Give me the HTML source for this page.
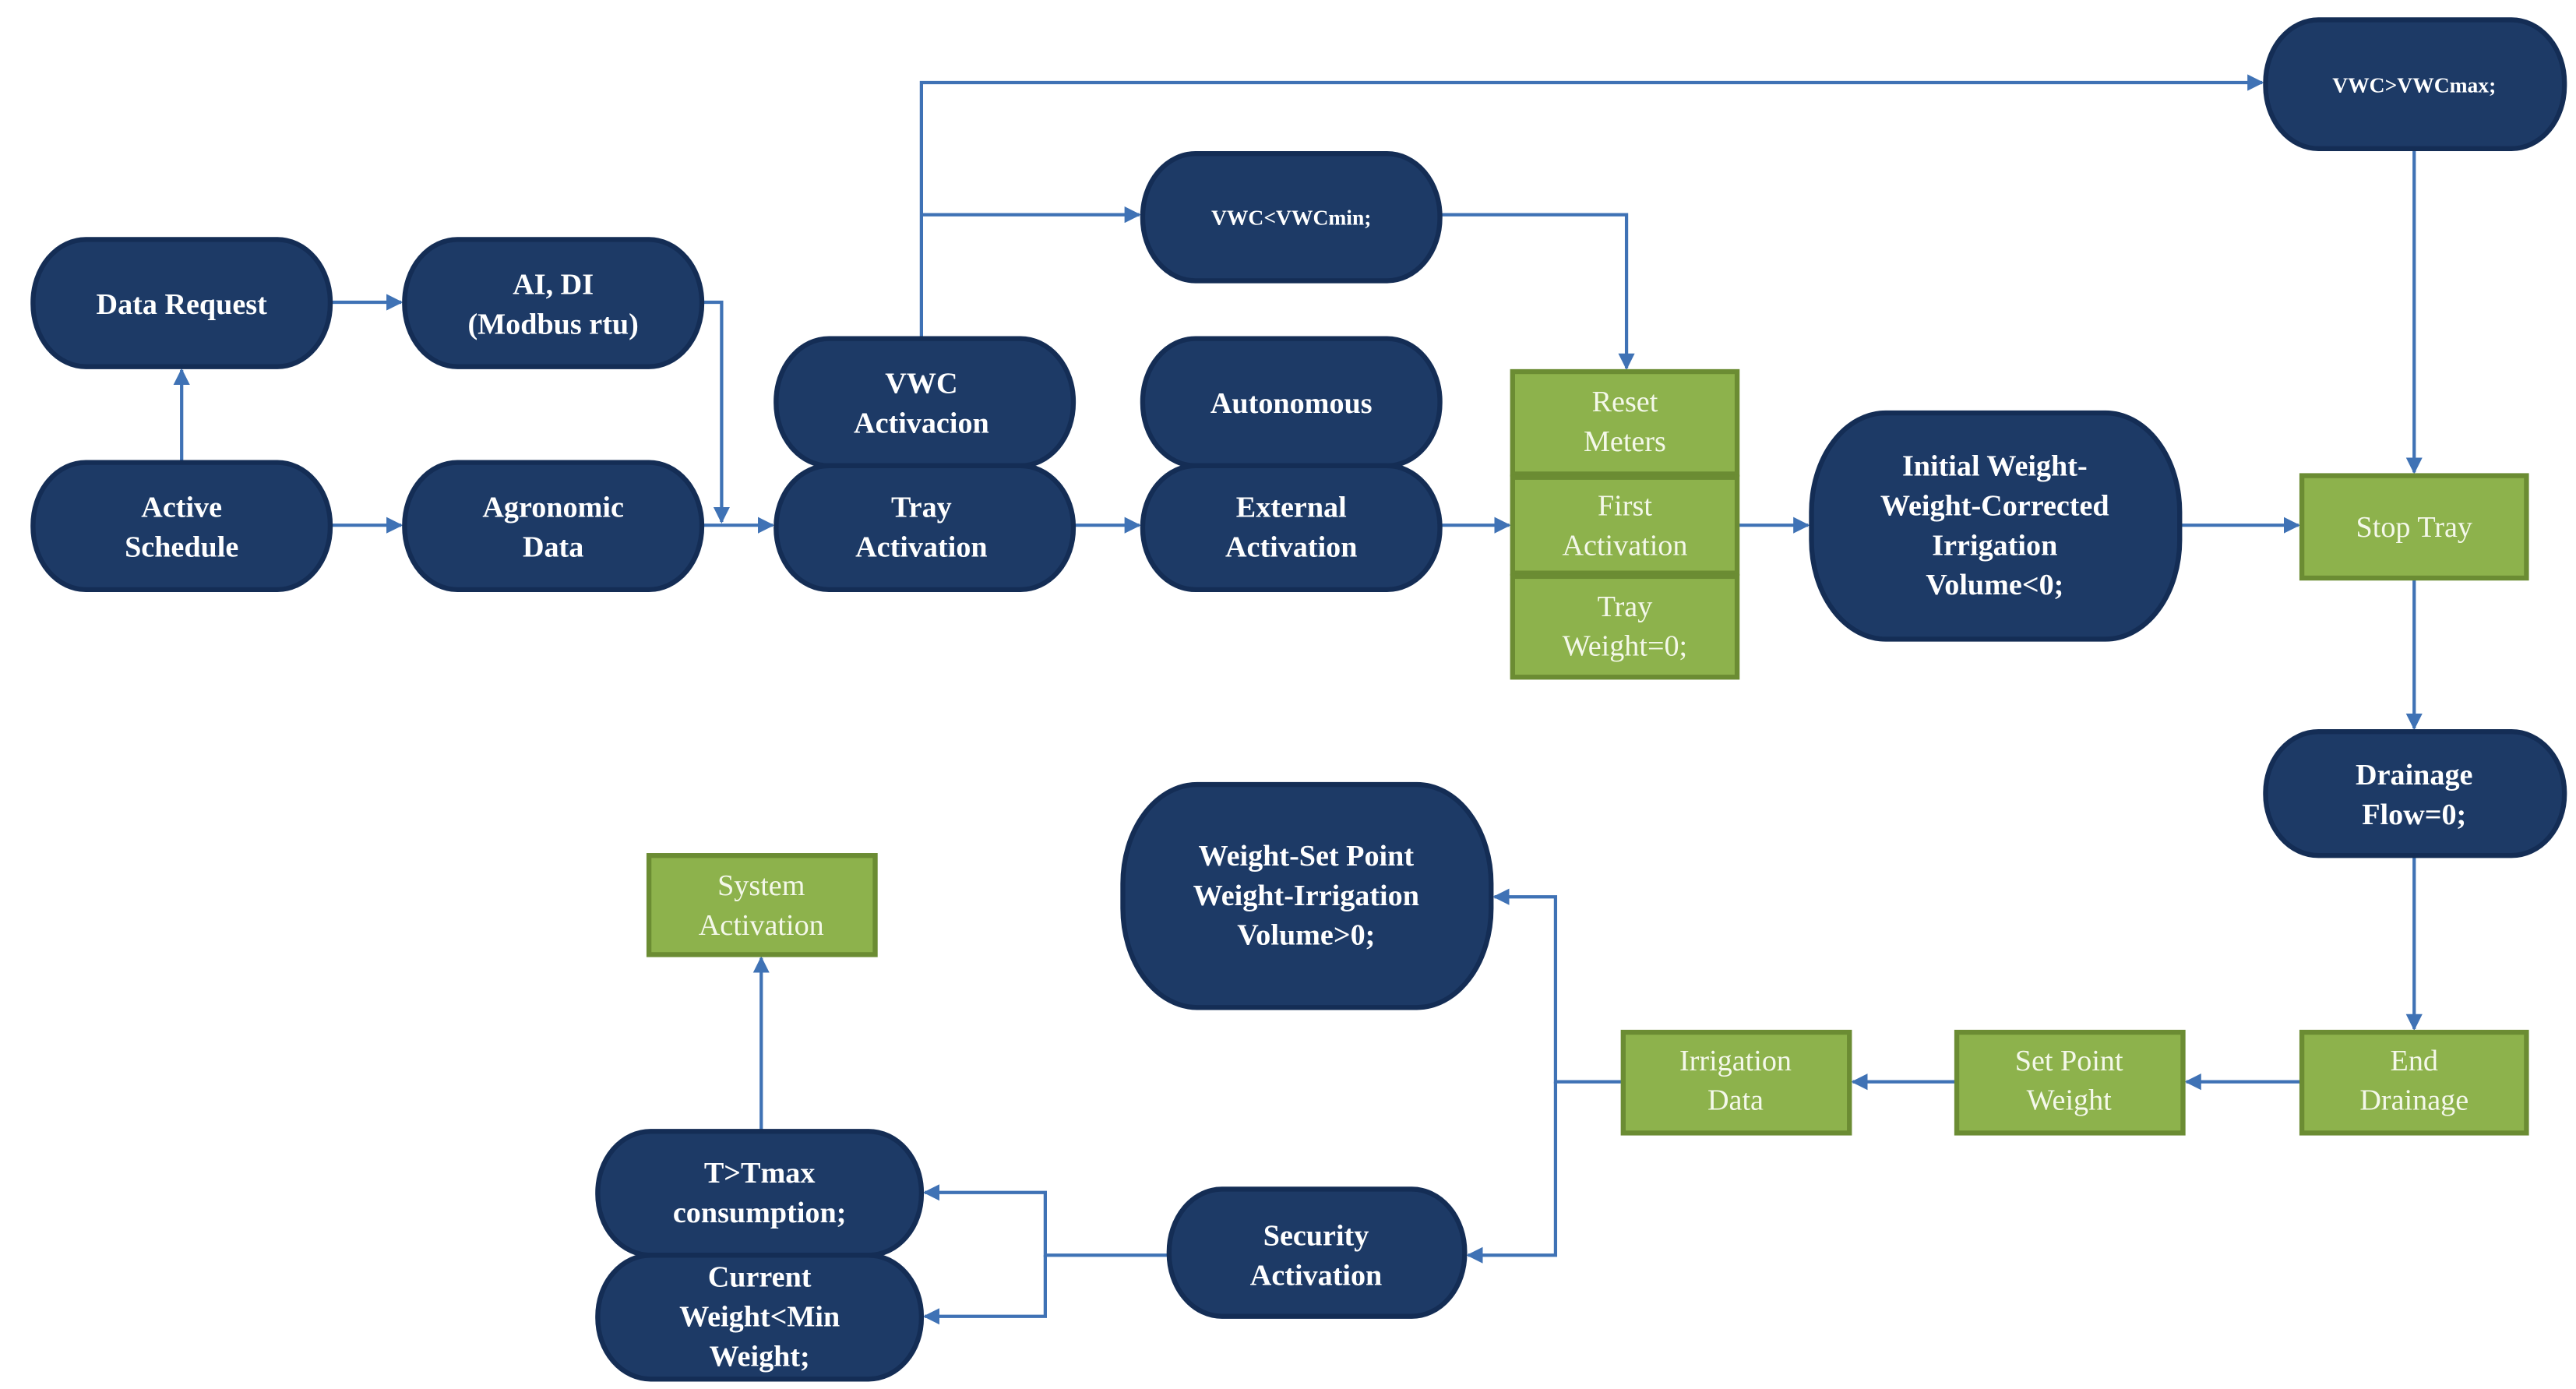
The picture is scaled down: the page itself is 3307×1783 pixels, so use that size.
<!DOCTYPE html>
<html><head><meta charset="utf-8"><style>
html,body{margin:0;padding:0;background:#fff;}
svg{display:block;}
.d{fill:#1d3a66;stroke:#142d55;stroke-width:3;}
.g{fill:#8db24c;stroke:#6b8c33;stroke-width:3;}
.t{font-family:"Liberation Serif",serif;font-weight:bold;fill:#fff;font-size:18px;text-anchor:middle;}
.s{font-size:13px;}
.gt{font-family:"Liberation Serif",serif;fill:#f4f8ea;font-size:18px;text-anchor:middle;}
.l{stroke:#3f72b5;stroke-width:2;fill:none;}
</style></head><body>
<svg width="3307" height="1783" viewBox="0 0 1560 841" preserveAspectRatio="none">
<defs><marker id="a" markerWidth="10" markerHeight="10" refX="9" refY="5" orient="auto" markerUnits="userSpaceOnUse"><path d="M0,0 L10,5 L0,10 z" fill="#3f72b5"/></marker></defs>
<!-- connectors -->
<path class="l" d="M200,183 H243" marker-end="url(#a)"/>
<path class="l" d="M110,280 V224" marker-end="url(#a)"/>
<path class="l" d="M200,318 H243" marker-end="url(#a)"/>
<path class="l" d="M425,183 H437 V316" marker-end="url(#a)"/>
<path class="l" d="M425,318 H468" marker-end="url(#a)"/>
<path class="l" d="M650,318 H690" marker-end="url(#a)"/>
<path class="l" d="M872,318 H914" marker-end="url(#a)"/>
<path class="l" d="M1052,318 H1095" marker-end="url(#a)"/>
<path class="l" d="M1320,318 H1392" marker-end="url(#a)"/>
<path class="l" d="M558,205 V50 H1370" marker-end="url(#a)"/>
<path class="l" d="M558,130 H690" marker-end="url(#a)"/>
<path class="l" d="M872,130 H985 V223" marker-end="url(#a)"/>
<path class="l" d="M1462,90 V286" marker-end="url(#a)"/>
<path class="l" d="M1462,350 V441" marker-end="url(#a)"/>
<path class="l" d="M1462,518 V623" marker-end="url(#a)"/>
<path class="l" d="M1394,655 H1324" marker-end="url(#a)"/>
<path class="l" d="M1185,655 H1122" marker-end="url(#a)"/>
<path class="l" d="M983,655 H942 V543 H905" marker-end="url(#a)"/>
<path class="l" d="M942,655 V760 H889" marker-end="url(#a)"/>
<path class="l" d="M708,760 H633 V722 H560" marker-end="url(#a)"/>
<path class="l" d="M633,760 V797 H560" marker-end="url(#a)"/>
<path class="l" d="M461,685 V580" marker-end="url(#a)"/>
<!-- dark nodes -->
<rect class="d" x="20" y="145" width="180" height="77" rx="32" ry="38"/>
<text class="t" x="110" y="190">Data Request</text>
<rect class="d" x="245" y="145" width="180" height="77" rx="32" ry="38"/>
<text class="t" x="335" y="178">AI, DI</text><text class="t" x="335" y="202">(Modbus rtu)</text>
<rect class="d" x="20" y="280" width="180" height="77" rx="32" ry="38"/>
<text class="t" x="110" y="313">Active</text><text class="t" x="110" y="337">Schedule</text>
<rect class="d" x="245" y="280" width="180" height="77" rx="32" ry="38"/>
<text class="t" x="335" y="313">Agronomic</text><text class="t" x="335" y="337">Data</text>
<rect class="d" x="470" y="205" width="180" height="77" rx="32" ry="38"/>
<text class="t" x="558" y="238">VWC</text><text class="t" x="558" y="262">Activacion</text>
<rect class="d" x="470" y="282" width="180" height="75" rx="32" ry="37"/>
<text class="t" x="558" y="313">Tray</text><text class="t" x="558" y="337">Activation</text>
<rect class="d" x="692" y="93" width="180" height="77" rx="32" ry="38"/>
<text class="t s" x="782" y="136">VWC&lt;VWCmin;</text>
<rect class="d" x="692" y="205" width="180" height="77" rx="32" ry="38"/>
<text class="t" x="782" y="250">Autonomous</text>
<rect class="d" x="692" y="282" width="180" height="75" rx="32" ry="37"/>
<text class="t" x="782" y="313">External</text><text class="t" x="782" y="337">Activation</text>
<rect class="d" x="1097" y="250" width="223" height="137" rx="45" ry="60"/>
<text class="t" x="1208" y="288">Initial Weight-</text><text class="t" x="1208" y="312">Weight-Corrected</text><text class="t" x="1208" y="336">Irrigation</text><text class="t" x="1208" y="360">Volume&lt;0;</text>
<rect class="d" x="1372" y="12" width="181" height="78" rx="32" ry="38"/>
<text class="t s" x="1462" y="56">VWC&gt;VWCmax;</text>
<rect class="d" x="1372" y="443" width="181" height="75" rx="32" ry="37"/>
<text class="t" x="1462" y="475">Drainage</text><text class="t" x="1462" y="499">Flow=0;</text>
<rect class="d" x="680" y="475" width="223" height="135" rx="45" ry="60"/>
<text class="t" x="791" y="524">Weight-Set Point</text><text class="t" x="791" y="548">Weight-Irrigation</text><text class="t" x="791" y="572">Volume&gt;0;</text>
<rect class="d" x="708" y="720" width="179" height="77" rx="32" ry="38"/>
<text class="t" x="797" y="754">Security</text><text class="t" x="797" y="778">Activation</text>
<rect class="d" x="362" y="685" width="196" height="75" rx="32" ry="37"/>
<text class="t" x="460" y="716">T&gt;Tmax</text><text class="t" x="460" y="740">consumption;</text>
<rect class="d" x="362" y="760" width="196" height="75" rx="32" ry="37"/>
<text class="t" x="460" y="779">Current</text><text class="t" x="460" y="803">Weight&lt;Min</text><text class="t" x="460" y="827">Weight;</text>
<!-- green nodes -->
<rect class="g" x="916" y="225" width="136" height="62"/>
<text class="gt" x="984" y="249">Reset</text><text class="gt" x="984" y="273">Meters</text>
<rect class="g" x="916" y="289" width="136" height="58"/>
<text class="gt" x="984" y="312">First</text><text class="gt" x="984" y="336">Activation</text>
<rect class="g" x="916" y="349" width="136" height="61"/>
<text class="gt" x="984" y="373">Tray</text><text class="gt" x="984" y="397">Weight=0;</text>
<rect class="g" x="1394" y="288" width="136" height="62"/>
<text class="gt" x="1462" y="325">Stop Tray</text>
<rect class="g" x="1394" y="625" width="136" height="61"/>
<text class="gt" x="1462" y="648">End</text><text class="gt" x="1462" y="672">Drainage</text>
<rect class="g" x="1185" y="625" width="137" height="61"/>
<text class="gt" x="1253" y="648">Set Point</text><text class="gt" x="1253" y="672">Weight</text>
<rect class="g" x="983" y="625" width="137" height="61"/>
<text class="gt" x="1051" y="648">Irrigation</text><text class="gt" x="1051" y="672">Data</text>
<rect class="g" x="393" y="518" width="137" height="60"/>
<text class="gt" x="461" y="542">System</text><text class="gt" x="461" y="566">Activation</text>
</svg>
</body></html>
